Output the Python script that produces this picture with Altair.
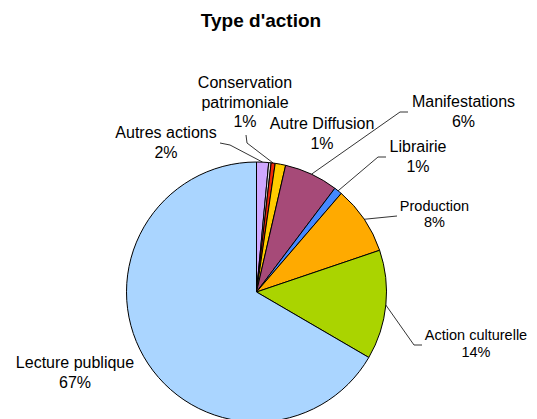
import math
import altair as alt
import pandas as pd

# ---- data ----
categories = ["Autres actions", "Autre (non étiqueté)", "Conservation patrimoniale",
              "Autre Diffusion", "Manifestations", "Librairie", "Production",
              "Action culturelle", "Lecture publique"]
values = [1.5, 0.3, 0.5, 1.3, 6.7, 1.0, 8.5, 13.6, 66.6]
label_names = ["Autres actions", None, "Conservation\npatrimoniale", "Autre Diffusion",
               "Manifestations", "Librairie", "Production", "Action culturelle",
               "Lecture publique"]
percent_labels = ["2%", "", "1%", "1%", "6%", "1%", "8%", "14%", "67%"]

# ---- styles / layout ----
colors = ["#CFA8FF", "#D9D9D9", "#F0280A", "#FFCC00", "#A64A78", "#4488FF",
          "#FFAA00", "#AAD400", "#AAD5FF"]
FONT = "Liberation Sans"
W, H = 521, 411
CX, CY, R = 248.5, 284.0, 130.0

# label layout: first-line centre, font size, line height, leader elbow & end (None = no leader)
label_layout = {
    "Autres actions": dict(tx=158, ty=125, fs=16, lh=20, elbow=(222, 137), end=(212, 135)),
    "Conservation patrimoniale": dict(tx=237, ty=75, fs=16, lh=19.5, elbow=(239, 135), end=(238, 127)),
    "Autre Diffusion": dict(tx=314, ty=116, fs=16, lh=20, elbow=None, end=None),
    "Manifestations": dict(tx=455.5, ty=94, fs=16, lh=20, elbow=(392, 104), end=(400, 104)),
    "Librairie": dict(tx=410, ty=139, fs=16, lh=20, elbow=(370, 149), end=(378, 149)),
    "Production": dict(tx=426.5, ty=199, fs=14.5, lh=16, elbow=(389, 208), end=(389, 208)),
    "Action culturelle": dict(tx=468, ty=328, fs=14.5, lh=16.5, elbow=(406, 337), end=(414, 337)),
    "Lecture publique": dict(tx=67, ty=355, fs=16, lh=20, elbow=None, end=None),
}

slices = pd.DataFrame({"cat": categories, "value": values, "idx": list(range(len(values)))})

total = sum(values)
text_rows, line_rows = [], []
cum = 0.0
for cat, v, name, pct in zip(categories, values, label_names, percent_labels):
    mid = 2 * math.pi * (cum + v / 2) / total
    cum += v
    if name is None:
        continue
    lay = label_layout[cat]
    text_rows.append(dict(cat=cat, text=name + "\n" + pct, tx=lay["tx"], ty=lay["ty"],
                          fs=lay["fs"], lh=lay["lh"]))
    if lay["end"] is not None:
        sx = CX + R * math.sin(mid)
        sy = CY - R * math.cos(mid)
        pts = [(sx, sy), lay["elbow"], lay["end"]]
        for i, (px, py) in enumerate(pts):
            line_rows.append(dict(cat=cat, seq=i, px=px, py=py))

texts = pd.DataFrame(text_rows)
lines = pd.DataFrame(line_rows)

pie = alt.Chart(slices).mark_arc(radius=R, stroke="black", strokeWidth=1).encode(
    theta=alt.Theta("value:Q", stack=True),
    color=alt.Color("cat:N", scale=alt.Scale(domain=categories, range=colors), legend=None),
    order=alt.Order("idx:Q"),
    x=alt.value(CX),
    y=alt.value(CY),
)

leaders = alt.Chart(lines).mark_line(color="black", strokeWidth=0.8).encode(
    x=alt.X("px:Q", scale=None),
    y=alt.Y("py:Q", scale=None),
    detail="cat:N",
    order="seq:Q",
)


def text_layer(fs, lh):
    sub = texts[(texts["fs"] == fs) & (texts["lh"] == lh)]
    return alt.Chart(sub).mark_text(
        font=FONT, fontSize=fs, lineHeight=lh, lineBreak="\n",
        align="center", baseline="middle", color="black"
    ).encode(
        x=alt.X("tx:Q", scale=None),
        y=alt.Y("ty:Q", scale=None),
        text="text:N",
    )


text_layers = [text_layer(fs, lh) for fs, lh in
               texts[["fs", "lh"]].drop_duplicates().itertuples(index=False)]

title = alt.Chart(pd.DataFrame({"t": ["Type d'action"]})).mark_text(
    font=FONT, fontSize=19, fontWeight="bold", align="center", baseline="alphabetic",
    color="black"
).encode(x=alt.value(253), y=alt.value(19), text="t:N")

chart = alt.layer(pie, leaders, *text_layers, title).properties(
    width=W, height=H, padding=0, background="white",
    autosize=alt.AutoSizeParams(type="none")
).configure_view(strokeWidth=0, stroke="transparent")

chart.save("out.html", embed_options={"renderer": "svg", "actions": False})
